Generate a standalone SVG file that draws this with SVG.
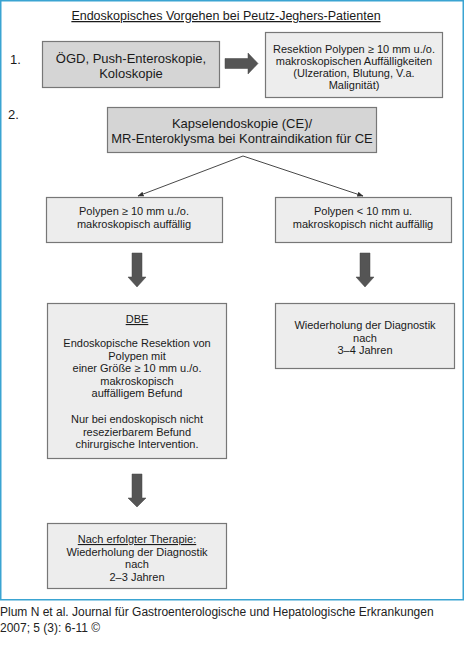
<svg xmlns="http://www.w3.org/2000/svg" width="464" height="661" viewBox="0 0 464 661">
<style>
text{font-family:"Liberation Sans",Arial,sans-serif;fill:#1a1a1a;text-anchor:middle}
.dark{fill:#d5d5d5;stroke:#777;stroke-width:1.2}
.light{fill:#ededed;stroke:#777;stroke-width:1.2}
.t13{font-size:13px}
.t11{font-size:11px}
.ar{fill:#555;stroke:#444;stroke-width:0.5}
.ln{stroke:#333;stroke-width:0.9;fill:none}
.u{text-decoration:underline}
</style>
<defs>
<marker id="ah" viewBox="0 0 10 10" refX="9" refY="5" markerWidth="7" markerHeight="7" orient="auto"><path d="M0,1 L10,5 L0,9 z" fill="#333"/></marker>
</defs>
<rect x="0" y="0" width="464" height="661" fill="#fff"/>
<rect x="0.75" y="0.75" width="462.5" height="599" fill="none" stroke="#3aa4d2" stroke-width="1.5"/>
<text id="title" x="226" y="20" style="font-size:12.5px" class="u">Endoskopisches Vorgehen bei Peutz-Jeghers-Patienten</text>
<text x="10" y="64" class="t13" style="text-anchor:start">1.</text>
<text x="8" y="119" class="t13" style="text-anchor:start">2.</text>
<g id="n1"><rect class="dark" x="42.5" y="41.5" width="177" height="46"/>
<text class="t13" x="131" y="63">ÖGD, Push-Enteroskopie,</text><text class="t13" x="131" y="77.5">Koloskopie</text></g>
<g id="n2"><rect class="light" x="265.5" y="32.5" width="177" height="65"/>
<text class="t11"><tspan x="354" y="52.5">Resektion Polypen ≥ 10 mm u./o.</tspan><tspan x="354" y="64.8">makroskopischen Auffälligkeiten</tspan><tspan x="354" y="77.1">(Ulzeration, Blutung, V.a.</tspan><tspan x="354" y="89.4">Malignität)</tspan></text></g>
<g id="n3"><rect class="dark" x="107.5" y="107.5" width="269" height="45"/>
<text class="t13" x="242" y="128">Kapselendoskopie (CE)/</text><text class="t13" x="242" y="142.5">MR-Enteroklysma bei Kontraindikation für CE</text></g>
<g id="n4"><rect class="light" x="46.5" y="197.5" width="176" height="45"/>
<text class="t11" x="134" y="215">Polypen ≥ 10 mm u./o.</text><text class="t11" x="134" y="228">makroskopisch auffällig</text></g>
<g id="n5"><rect class="light" x="275.5" y="197.5" width="176" height="45"/>
<text class="t11" x="363" y="215">Polypen &lt; 10 mm u.</text><text class="t11" x="363" y="228">makroskopisch nicht auffällig</text></g>
<g id="n6"><rect class="light" x="47.5" y="303.5" width="179" height="155"/>
<text class="t11 u" x="137" y="323">DBE</text>
<text class="t11"><tspan x="137" y="347">Endoskopische Resektion von</tspan><tspan x="137" y="359.5">Polypen mit</tspan><tspan x="137" y="372">einer Größe ≥ 10 mm u./o.</tspan><tspan x="137" y="384.5">makroskopisch</tspan><tspan x="137" y="397">auffälligem Befund</tspan><tspan x="137" y="423">Nur bei endoskopisch nicht</tspan><tspan x="137" y="435.5">resezierbarem Befund</tspan><tspan x="137" y="448">chirurgische Intervention.</tspan></text></g>
<g id="n7"><rect class="light" x="275.5" y="303.5" width="179" height="65"/>
<text class="t11"><tspan x="365" y="329">Wiederholung der Diagnostik</tspan><tspan x="365" y="341.5">nach</tspan><tspan x="365" y="354">3–4 Jahren</tspan></text></g>
<g id="n8"><rect class="light" x="47.5" y="523.5" width="179" height="65"/>
<text class="t11 u" x="137" y="543">Nach erfolgter Therapie:</text>
<text class="t11"><tspan x="137" y="555.5">Wiederholung der Diagnostik</tspan><tspan x="137" y="568">nach</tspan><tspan x="137" y="580.5">2–3 Jahren</tspan></text></g>
<g id="connectors">
<path class="ar" d="M225,58.5 H248 V53 L258,63.5 L248,74 V68.5 H225 z"/>
<line class="ln" x1="243" y1="156" x2="138" y2="196" marker-end="url(#ah)"/>
<line class="ln" x1="243" y1="156" x2="363" y2="196" marker-end="url(#ah)"/>
<path class="ar" d="M132,253 H142 V277 H146 L137,287 L128,277 H132 z"/>
<path class="ar" d="M360,253 H370 V277 H374 L365,287 L356,277 H360 z"/>
<path class="ar" d="M132,474 H142 V498 H146 L137,507 L128,498 H132 z"/>
</g>
<text x="0" y="616" style="font-size:12px;text-anchor:start;fill:#222">Plum N et al. Journal für Gastroenterologische und Hepatologische Erkrankungen</text>
<text x="0" y="632" style="font-size:12px;text-anchor:start;fill:#222">2007; 5 (3): 6-11 ©</text>
</svg>
